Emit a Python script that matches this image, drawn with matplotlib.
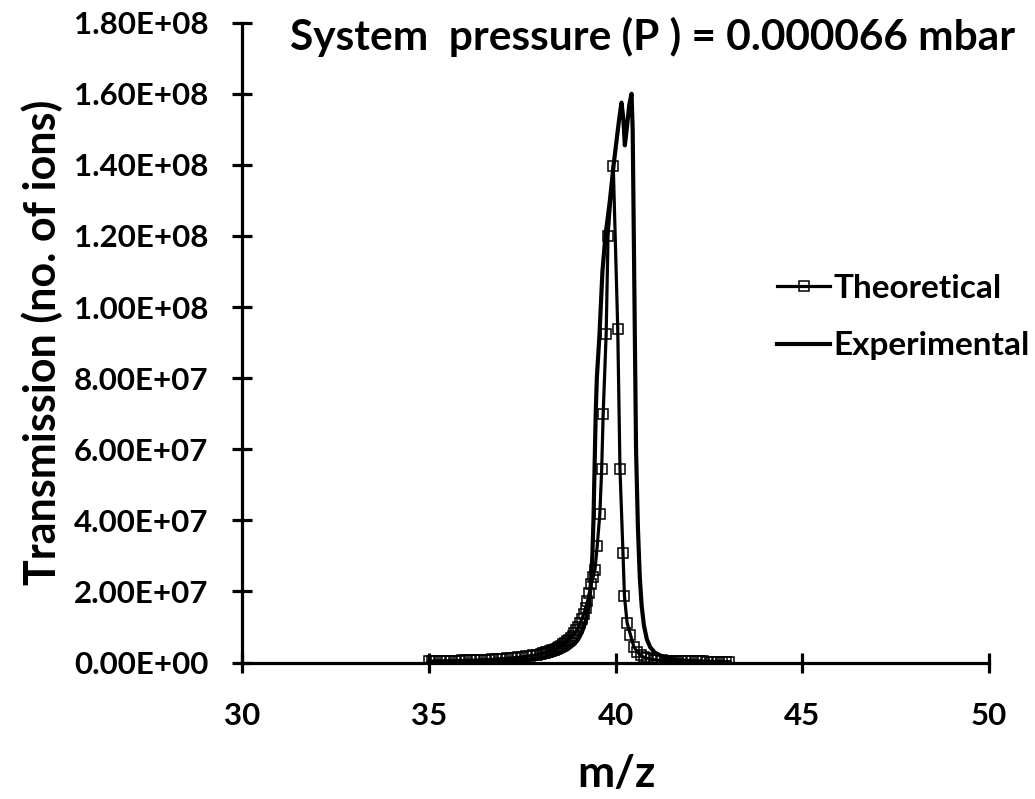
import matplotlib as mpl; mpl.use("Agg")
import matplotlib.pyplot as plt
from matplotlib.ticker import FuncFormatter, MultipleLocator

mpl.rcParams.update({"font.family": ["Lato", "DejaVu Sans"], "font.weight": "bold"})

# ---- data ----
theo_x = [35.0, 35.1, 35.2, 35.3, 35.4, 35.5, 35.6, 35.7, 35.8, 35.9,
          36.0, 36.1, 36.2, 36.3, 36.4, 36.5, 36.6, 36.7, 36.8, 36.9,
          37.0, 37.1, 37.2, 37.3, 37.4, 37.5, 37.6, 37.7, 37.8, 37.9,
          38.0, 38.05, 38.1, 38.15, 38.2, 38.25, 38.3, 38.35, 38.4, 38.45,
          38.5, 38.55, 38.6, 38.65, 38.7, 38.75, 38.8, 38.85, 38.9, 38.95,
          39.0, 39.05, 39.1, 39.15, 39.2, 39.25, 39.3, 39.35, 39.4, 39.45,
          39.51, 39.58, 39.63, 39.67, 39.75, 39.80, 39.94, 40.06, 40.12, 40.20,
          40.24, 40.31, 40.40, 40.49, 40.58, 40.67, 40.76, 40.85, 40.95, 41.05,
          41.15, 41.25, 41.35, 41.45, 41.55, 41.65, 41.75, 41.85, 41.95, 42.05,
          42.15, 42.25, 42.35, 42.45, 42.55, 42.65, 42.75, 42.85, 42.95, 43.05]
theo_y = [3.9e5, 4.0e5, 4.2e5, 4.4e5, 4.6e5, 4.8e5, 5.0e5, 5.2e5, 5.5e5, 5.8e5,
          6.1e5, 6.4e5, 6.7e5, 7.1e5, 7.5e5, 8.0e5, 8.4e5, 9.0e5, 9.5e5, 1.02e6,
          1.09e6, 1.16e6, 1.25e6, 1.35e6, 1.45e6, 1.57e6, 1.71e6, 1.86e6, 2.04e6, 2.24e6,
          2.47e6, 2.6e6, 2.74e6, 2.9e6, 3.06e6, 3.24e6, 3.44e6, 3.65e6, 3.88e6, 4.14e6,
          4.43e6, 4.74e6, 5.08e6, 5.46e6, 5.91e6, 6.37e6, 6.92e6, 7.54e6, 8.24e6, 9.04e6,
          9.96e6, 1.10e7, 1.23e7, 1.37e7, 1.54e7, 1.72e7, 1.95e7, 2.2e7, 2.4e7, 2.61e7,
          3.27e7, 4.17e7, 5.44e7, 7.0e7, 9.25e7, 1.2e8, 1.397e8, 9.39e7, 5.44e7, 3.09e7,
          1.86e7, 1.12e7, 7.8e6, 4.5e6, 3.0e6, 2.1e6, 1.5e6, 1.15e6, 9.0e5, 7.5e5,
          6.5e5, 5.8e5, 5.4e5, 5.0e5, 4.7e5, 4.4e5, 4.1e5, 3.9e5, 3.7e5, 3.5e5,
          3.3e5, 3.1e5, 2.9e5, 2.8e5, 2.6e5, 2.5e5, 2.4e5, 2.3e5, 2.1e5, 2.0e5]

exp_x = [35.0, 36.0, 37.0, 37.5, 38.0, 38.4, 38.7, 38.9, 39.0, 39.1,
         39.2, 39.28, 39.34, 39.38, 39.41, 39.44, 39.47, 39.50, 39.57, 39.65,
         39.73, 39.85, 39.95, 40.03, 40.10, 40.16, 40.21, 40.25, 40.30, 40.37,
         40.43, 40.46, 40.49, 40.52, 40.55, 40.60, 40.65, 40.70, 40.76, 40.84,
         40.93, 41.05, 41.27, 41.6, 42.0, 42.5, 43.0]
exp_y = [0.0, 1e5, 3e5, 6e5, 1.2e6, 2.2e6, 3.6e6, 5.2e6, 6.5e6, 8.5e6,
         1.15e7, 1.6e7, 2.2e7, 3.0e7, 4.0e7, 5.5e7, 7.0e7, 8.0e7, 9.2e7, 1.1e8,
         1.2e8, 1.3e8, 1.4e8, 1.47e8, 1.53e8, 1.575e8, 1.53e8, 1.455e8, 1.5e8, 1.57e8,
         1.6e8, 1.5e8, 1.2e8, 9.0e7, 6.0e7, 3.8e7, 2.4e7, 1.6e7, 1.05e7, 6.5e6,
         4.3e6, 2.8e6, 1.6e6, 8e5, 4e5, 2e5, 1e5]

x_ticks = [30, 35, 40, 45, 50]
title = "System  pressure (P ) = 0.000066 mbar"

W, H = 1035, 799
fig = plt.figure(figsize=(W/100, H/100), dpi=100)
ax = fig.add_axes([242/W, 1-662.5/H, (989-242)/W, (662.5-22.7)/H])

ax.plot(theo_x, theo_y, color="black", lw=2.3, marker="s", ms=7, mfc="none",
        mec="black", mew=1.1, label="Theoretical", zorder=3)
ax.plot(exp_x, exp_y, color="black", lw=3.0, label="Experimental", zorder=4)

ax.set_xlim(30, 50); ax.set_ylim(0, 1.8e8)
ax.set_xticks(x_ticks)
ax.yaxis.set_major_locator(MultipleLocator(2e7))
ax.yaxis.set_major_formatter(FuncFormatter(lambda v, p: f"{v:.2E}"))
for s in ["top", "right"]: ax.spines[s].set_visible(False)
for s in ["left", "bottom"]: ax.spines[s].set_linewidth(2.3)
ax.tick_params(direction="inout", length=14.4, width=2.3, labelsize=22.5)
ax.tick_params(axis="x", pad=21)
ax.tick_params(axis="y", pad=17)
for lab in ax.get_xticklabels() + ax.get_yticklabels(): lab.set_fontweight("bold")

fig.text(290/W, 1-37/H, title, fontsize=30.5, fontweight="bold", ha="left", va="center")
fig.text(42/W, 1-342/H, "Transmission (no. of ions)", fontsize=31, fontweight="bold",
         rotation=90, ha="center", va="center")
fig.text(616/W, 1-774/H, "m/z", fontsize=32, fontweight="bold", ha="center", va="center")

leg = ax.legend(loc="center left", bbox_to_anchor=((777-242)/(989-242), (662.5-317)/(662.5-22.7)),
                frameon=False, fontsize=24, handlelength=1.6, handletextpad=0.1,
                labelspacing=0.85, numpoints=1, borderpad=0, borderaxespad=0)
for t in leg.get_texts(): t.set_fontweight("bold")

fig.savefig("out.png", dpi=100)
